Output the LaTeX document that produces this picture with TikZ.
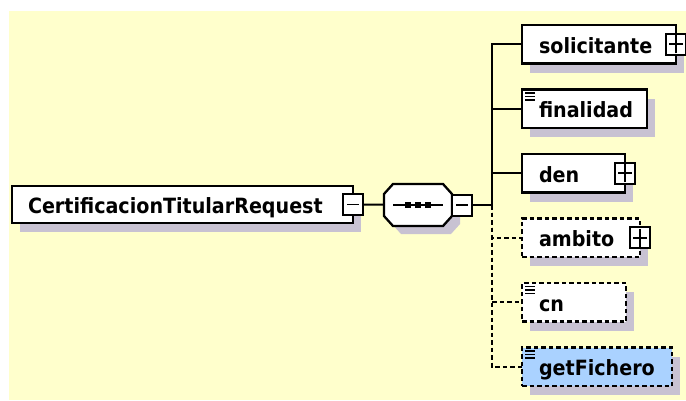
\documentclass[tikz,border=0pt]{standalone}
\usepackage{fontspec}
\newfontfamily\xsdfont{DejaVu Sans}[FakeStretch=0.91]
\usepackage{tikz}
\usetikzlibrary{
	positioning,
	shadows
}

\definecolor{panel}{RGB}{255,255,204}
\definecolor{shadowgray}{RGB}{200,194,210}
\definecolor{chosen}{RGB}{170,210,255}

\tikzset{
	boxshadow/.style={drop shadow={shadow xshift=8pt, shadow yshift=-9pt, fill=shadowgray, opacity=1}},
	elem/.style={draw, line width=2.3pt, fill=white, outer sep=0pt, anchor=north west,
		minimum height=38.5pt, inner xsep=17pt, text width=#1, align=left,
		text height=18pt, text depth=0pt, boxshadow,
		font=\xsdfont\bfseries\fontsize{21pt}{24pt}\selectfont},
	optional/.style={dash pattern=on 4.5pt off 3pt},
	simple/.style={path picture={
		\foreach \dy in {3.5,7,10.5}
			\draw[line width=1.4pt,solid] ([shift={(3pt,-\dy pt)}]path picture bounding box.north west) -- +(10pt,0pt);
	}},
	expander/.style={draw, solid, line width=2pt, fill=white, outer sep=0pt,
		minimum width=20pt, minimum height=21pt, inner sep=0pt},
	plus/.style={expander, path picture={
		\draw[line width=1.6pt]
			([xshift=-7pt]path picture bounding box.center) -- ([xshift=7pt]path picture bounding box.center)
			([yshift=-9pt]path picture bounding box.center) -- ([yshift=9pt]path picture bounding box.center);
	}},
	minus/.style={expander, path picture={
		\draw[line width=1.6pt]
			([xshift=-6pt]path picture bounding box.center) -- ([xshift=6pt]path picture bounding box.center);
	}},
	sequence/.style={minimum width=68pt, minimum height=42pt, inner sep=0pt, outer sep=0pt},
	octagon/.style={insert path={
		([xshift=9pt]#1.north west) -- ([xshift=-9pt]#1.north east) -- ([yshift=-10pt]#1.north east)
		-- ([yshift=10pt]#1.south east) -- ([xshift=-9pt]#1.south east) -- ([xshift=9pt]#1.south west)
		-- ([yshift=10pt]#1.south west) -- ([yshift=-10pt]#1.north west) -- cycle
	}},
	link/.style={line width=2pt}
}

\begin{document}
\begin{tikzpicture}[x=1pt,y=-1pt]
	\useasboundingbox (0,0) rectangle (686,400);
	\fill[white] (0,0) rectangle (686,400);
	\fill[panel] (9,11) rectangle (686,400);

	\node[elem=309pt, inner xsep=16pt, minimum height=37pt] (request) at (12,186) {CertificacionTitularRequest};
	\node[sequence] (seq) at (418,205) {};

	\node[elem=120pt] (solicitante) at (522,25) {solicitante};
	\node[elem=91pt, simple, below=26pt of solicitante.south west, anchor=north west] (finalidad) {finalidad};
	\node[elem=69pt, below=26pt of finalidad.south west, anchor=north west] (den) {den};
	\node[elem=84pt, optional, below=26pt of den.south west, anchor=north west] (ambito) {ambito};
	\node[elem=70pt, optional, simple, below=26pt of ambito.south west, anchor=north west] (cn) {cn};
	\node[elem=116pt, optional, simple, fill=chosen, below=26pt of cn.south west, anchor=north west] (getFichero) {getFichero};

	\begin{scope}[transform canvas={xshift=8pt, yshift=-8pt}]
		\fill[shadowgray, octagon=seq];
	\end{scope}
	\filldraw[fill=white, line width=2.3pt, octagon=seq];
	\draw[line width=2pt] ([xshift=-25pt]seq.center) -- ([xshift=25pt]seq.center);
	\foreach \dx in {-10,0,10}
		\fill ([shift={(\dx pt-3pt,-3pt)}]seq.center) rectangle ([shift={(\dx pt+3pt,3pt)}]seq.center);

	\node[minus] (requestx) at (request.east) {};
	\node[minus, right=0pt of seq] (seqx) {};
	\node[plus] (solicitantex) at (solicitante.east) {};
	\node[plus] (denx) at (den.east) {};
	\node[plus] (ambitox) at (ambito.east) {};
	\coordinate[right=20pt of seqx] (trunk);

	\draw[link] (requestx) -- (seq);
	\draw[link] (seqx) -- (trunk);
	\foreach \child in {solicitante,finalidad,den}
		\draw[link] (trunk) |- (\child.west);
	\foreach \child in {ambito,cn,getFichero}
		\draw[link,optional] (trunk) |- (\child.west);
\end{tikzpicture}
\end{document}
